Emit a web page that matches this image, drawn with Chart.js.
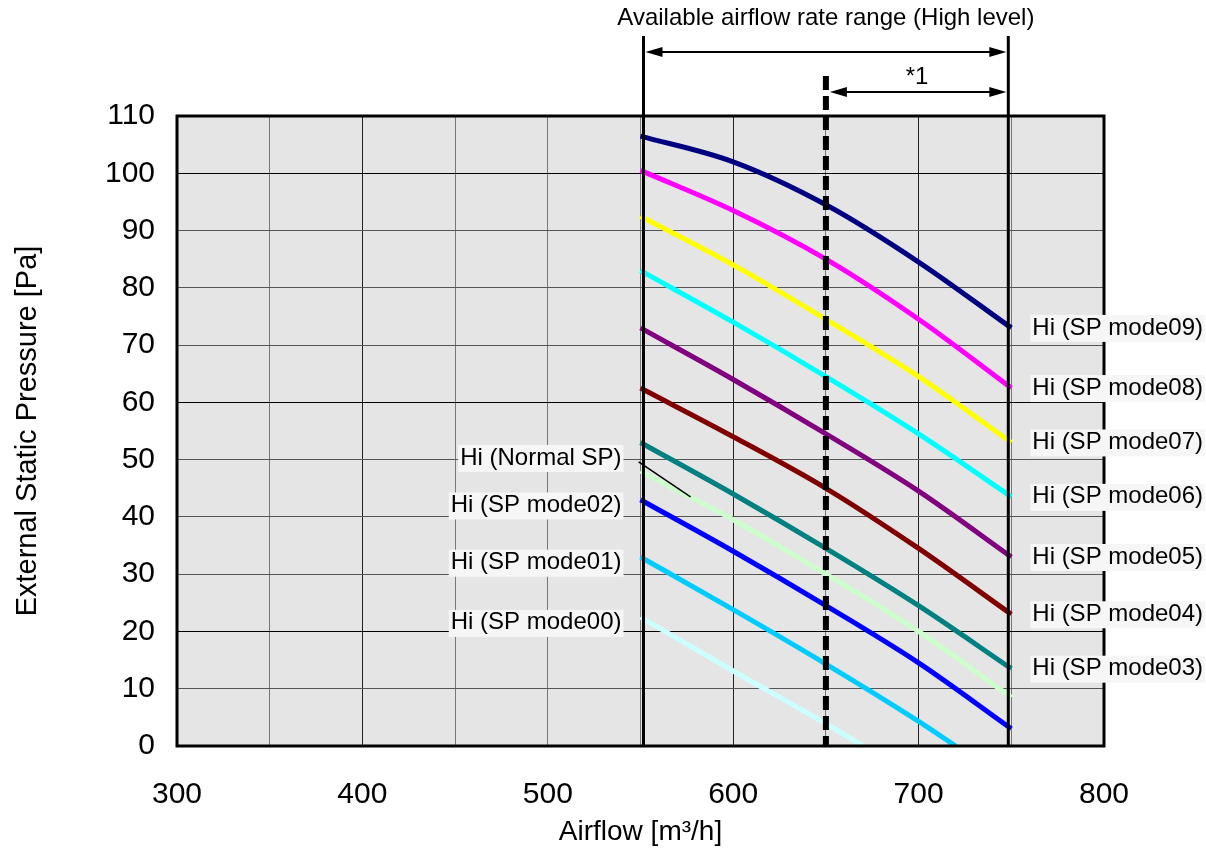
<!DOCTYPE html>
<html>
<head>
<meta charset="utf-8">
<script src="https://cdn.jsdelivr.net/npm/chart.js@4.4.1/dist/chart.umd.min.js"></script>
<style>
  body { margin: 0; background: #fff; }
  #wrap { width: 1206px; height: 849px; }
</style>
</head>
<body>
<div id="wrap"><canvas id="fanChart" width="1206" height="849"></canvas></div>
<script>
// Datos de las curvas (caudal vs presion estatica)
const xTicks = [300, 400, 500, 600, 700, 800];
const xGrid = [300, 350, 400, 450, 500, 550, 600, 650, 700, 750, 800];
const yTicks = [0, 10, 20, 30, 40, 50, 60, 70, 80, 90, 100, 110];

const seriesNames = ['Hi (SP mode09)', 'Hi (SP mode08)', 'Hi (SP mode07)', 'Hi (SP mode06)', 'Hi (SP mode05)',
                     'Hi (SP mode04)', 'Hi (SP mode03)', 'Hi (Normal SP)', 'Hi (SP mode02)', 'Hi (SP mode01)', 'Hi (SP mode00)'];
const seriesColors = ['#000080', '#ff00ff', '#ffff00', '#00ffff', '#800080',
                      '#800000', '#008080', '#ccffcc', '#0000ff', '#00ccff', '#ccffff'];
const labelSide = ['right', 'right', 'right', 'right', 'right', 'right', 'right', 'left', 'left', 'left', 'left'];

const airflow = [550, 600, 650, 700, 750];
const mode09 = [106.5, 102, 94.5, 84.5, 73];
const mode08 = [100.5, 93.5, 85, 74.5, 62.5];
const mode07 = [92.5, 84, 74.5, 64.5, 53];
const mode06 = [83, 74, 64.5, 54.5, 43.5];
const mode05 = [73, 64, 54.5, 44.5, 33];
const mode04 = [62.5, 54, 45, 34.5, 23];
const mode03 = [53, 44, 34.5, 24.5, 13.5];
const normalSP = [48, 39.5, 30, 20, 8.5];
const mode02 = [43, 34, 24.5, 14.5, 3];
const mode01X = [550, 600, 650, 700, 720];
const mode01 = [33, 23.8, 14.3, 4.3, 0];
const mode00X = [550, 600, 650, 670];
const mode00 = [22.5, 13.1, 3.9, 0];

const seriesX = [airflow, airflow, airflow, airflow, airflow, airflow, airflow, airflow, airflow, mode01X, mode00X];
const seriesY = [mode09, mode08, mode07, mode06, mode05, mode04, mode03, normalSP, mode02, mode01, mode00];

// Rango disponible y limite *1
const rangeMin = 550;
const rangeMax = 750;
const limitValue = 650;

const datasets = seriesNames.map((name, i) => ({
    label: name,
    data: seriesX[i].map((x, j) => ({ x: x, y: seriesY[i][j] })),
    borderColor: seriesColors[i],
    borderWidth: 5,
    pointRadius: 0,
    fill: false,
    cubicInterpolationMode: 'monotone',
    tension: 0.4
}));

const FONT = '"Liberation Sans", Arial, sans-serif';

function arrowHead(ctx, x, y, dir) {
    ctx.beginPath();
    ctx.moveTo(x, y);
    ctx.lineTo(x - dir * 17, y - 5);
    ctx.lineTo(x - dir * 17, y + 5);
    ctx.closePath();
    ctx.fill();
}

function doubleArrow(ctx, x1, x2, y) {
    ctx.beginPath();
    ctx.moveTo(x1 + 8, y);
    ctx.lineTo(x2 - 8, y);
    ctx.stroke();
    arrowHead(ctx, x1, y, -1);
    arrowHead(ctx, x2, y, 1);
}

// Fondo gris del area de trazado
const plotBackground = {
    id: 'plotBackground',
    beforeDraw(chart) {
        const { ctx, chartArea: a } = chart;
        ctx.save();
        ctx.fillStyle = '#e5e5e5';
        ctx.fillRect(a.left, a.top, a.right - a.left, a.bottom - a.top);
        ctx.restore();
    }
};

// Lineas de rango, flechas y etiquetas
const annotations = {
    id: 'annotations',
    afterDatasetsDraw(chart) {
        const { ctx, chartArea: a, scales } = chart;
        const xs = scales.x, ys = scales.y;
        const xMin = xs.getPixelForValue(rangeMin) + 3;
        const xMax = xs.getPixelForValue(rangeMax) - 3;
        const xLim = xs.getPixelForValue(limitValue);
        ctx.save();

        // borde del grafico
        ctx.strokeStyle = '#000';
        ctx.lineWidth = 3;
        ctx.strokeRect(a.left, a.top, a.right - a.left, a.bottom - a.top);

        // lineas verticales del rango
        ctx.beginPath();
        ctx.moveTo(xMin, 36); ctx.lineTo(xMin, a.bottom);
        ctx.moveTo(xMax, 36); ctx.lineTo(xMax, a.bottom);
        ctx.stroke();

        // linea discontinua *1
        ctx.lineWidth = 6;
        ctx.setLineDash([14, 6]);
        ctx.beginPath();
        ctx.moveTo(xLim, 76); ctx.lineTo(xLim, a.bottom);
        ctx.stroke();
        ctx.setLineDash([]);

        // flechas
        ctx.lineWidth = 2;
        ctx.fillStyle = '#000';
        doubleArrow(ctx, xMin + 2, xMax - 2, 52);
        doubleArrow(ctx, xLim + 4, xMax - 2, 92);

        ctx.font = '24px ' + FONT;
        ctx.textAlign = 'center';
        ctx.textBaseline = 'middle';
        ctx.fillText('Available airflow rate range (High level)', xLim, 18);
        ctx.fillText('*1', (xLim + xMax) / 2, 77);

        // linea guia de Normal SP
        ctx.lineWidth = 1.5;
        ctx.beginPath();
        ctx.moveTo(xs.getPixelForValue(549), ys.getPixelForValue(49.6));
        ctx.lineTo(xs.getPixelForValue(577), ys.getPixelForValue(43.5));
        ctx.stroke();

        // etiquetas de las curvas
        ctx.font = '24px ' + FONT;
        seriesNames.forEach((name, i) => {
            const yv = seriesY[i];
            let px, py;
            if (labelSide[i] === 'right') {
                px = xs.getPixelForValue(rangeMax) + 21;
                py = ys.getPixelForValue(yv[yv.length - 1]);
                ctx.textAlign = 'left';
            } else {
                px = xs.getPixelForValue(rangeMin) - 19;
                py = ys.getPixelForValue(yv[0] + (i === 7 ? 2.3 : -1));
                ctx.textAlign = 'right';
            }
            const w = ctx.measureText(name).width;
            const bx = ctx.textAlign === 'left' ? px - 2 : px - w - 2;
            ctx.fillStyle = '#f6f6f6';
            ctx.fillRect(bx, py - 13, w + 4, 27);
            ctx.fillStyle = '#000';
            ctx.fillText(name, px, py);
        });
        ctx.restore();
    }
};

const ctx = document.getElementById('fanChart').getContext('2d');
const fanChart = new Chart(ctx, {
    type: 'line',
    data: { datasets: datasets },
    options: {
        responsive: false,
        animation: false,
        layout: { padding: { top: 116, right: 102, left: 0, bottom: 0 } },
        plugins: { legend: { display: false }, tooltip: { enabled: false } },
        scales: {
            x: {
                type: 'linear',
                min: 300, max: 800,
                afterFit(scale) { scale.height = 103; },
                afterBuildTicks(scale) { scale.ticks = xGrid.map(v => ({ value: v })); },
                grid: {
                    drawTicks: false,
                    color: c => ([400, 600, 700].includes(c.tick && c.tick.value) ? '#222' : '#777'),
                    lineWidth: 1
                },
                border: { display: false },
                ticks: {
                    color: '#000',
                    padding: 31,
                    maxRotation: 0,
                    autoSkip: false,
                    callback: v => (xTicks.includes(v) ? String(v) : ''),
                    font: { family: FONT, size: 30 }
                },
                title: {
                    display: true,
                    text: 'Airflow [m³/h]',
                    color: '#000',
                    padding: { top: 0, bottom: 0 },
                    font: { family: FONT, size: 28 }
                }
            },
            y: {
                min: 0, max: 110,
                afterFit(scale) { scale.width = 177; },
                afterBuildTicks(scale) { scale.ticks = yTicks.map(v => ({ value: v })); },
                grid: {
                    drawTicks: false,
                    color: c => ([100, 60, 20].includes(c.tick && c.tick.value) ? '#000' : '#555'),
                    lineWidth: 1
                },
                border: { display: false },
                ticks: {
                    color: '#000',
                    padding: 22,
                    font: { family: FONT, size: 30 }
                },
                title: {
                    display: true,
                    text: 'External Static Pressure [Pa]',
                    color: '#000',
                    padding: { top: 11 },
                    font: { family: FONT, size: 29 }
                }
            }
        }
    },
    plugins: [plotBackground, annotations]
});
</script>
</body>
</html>
